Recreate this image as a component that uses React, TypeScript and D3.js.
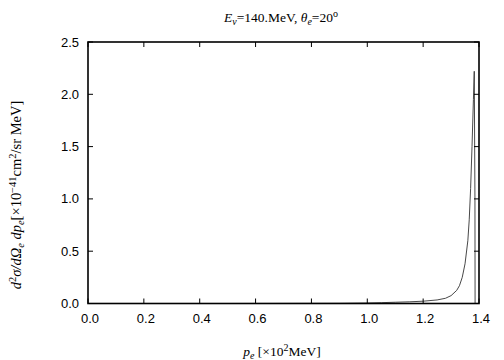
import React from "react";
import * as d3 from "d3";

const pe: number[] = [0.0, 0.5, 0.9, 1.0, 1.05, 1.1, 1.15, 1.2, 1.25, 1.28, 1.3, 1.32, 1.33, 1.34, 1.35, 1.36, 1.365, 1.37, 1.375, 1.38, 1.383, 1.3855, 1.386];
const xs: number[] = [0.0, 0.0, 0.002, 0.005, 0.008, 0.012, 0.016, 0.022, 0.034, 0.05, 0.075, 0.125, 0.17, 0.25, 0.38, 0.6, 0.8, 1.1, 1.5, 1.95, 2.22, 1.0, 0.0];
const xTicks: number[] = [0, 0.2, 0.4, 0.6, 0.8, 1.0, 1.2, 1.4];
const yTicks: number[] = [0, 0.5, 1.0, 1.5, 2.0, 2.5];

const W = 504, H = 360;
const L = 88, R = 479, T = 42, B = 303.5;

export default function App() {
  const x = d3.scaleLinear().domain([0, 1.4]).range([L, R]);
  const y = d3.scaleLinear().domain([0, 2.5]).range([B, T]);
  const line = d3.line<number>().x((_, i) => x(pe[i])).y((d) => y(d));
  const tk = 5;
  const sans = "'Liberation Sans', Arial, sans-serif";
  const serif = "'Liberation Serif', 'Times New Roman', serif";
  return (
    <svg width={W} height={H} style={{ position: "absolute", left: 0, top: 0, background: "#fff" }}>
      <rect x={0} y={0} width={W} height={H} fill="#fff" />
      <path d={line(xs) || ""} fill="none" stroke="#333" strokeWidth={0.9} />
      {xTicks.map((t) => (
        <g key={"x" + t}>
          <line x1={x(t)} x2={x(t)} y1={B} y2={B - tk} stroke="#000" strokeWidth={1} />
          <line x1={x(t)} x2={x(t)} y1={T} y2={T + tk} stroke="#000" strokeWidth={1} />
          <text x={x(t) + 2} y={323} fontFamily={sans} fontSize={13} textAnchor="middle" fill="#000">
            {t.toFixed(1)}
          </text>
        </g>
      ))}
      {yTicks.map((t) => (
        <g key={"y" + t}>
          <line x1={L} x2={L + tk} y1={y(t)} y2={y(t)} stroke="#000" strokeWidth={1} />
          <line x1={R} x2={R - tk} y1={y(t)} y2={y(t)} stroke="#000" strokeWidth={1} />
          <text x={79} y={y(t) + 4.5} fontFamily={sans} fontSize={13} textAnchor="end" fill="#000">
            {t.toFixed(1)}
          </text>
        </g>
      ))}
      <rect x={L} y={T} width={R - L} height={B - T} fill="none" stroke="#000" strokeWidth={1.6} />
      <text x={281} y={22} fontFamily={serif} fontSize={13.5} textAnchor="middle" fill="#000">
        <tspan fontStyle="italic">E</tspan>
        <tspan fontStyle="italic" fontSize={10} dy={3}>ν</tspan>
        <tspan dy={-3}>=140.MeV,  </tspan>
        <tspan fontStyle="italic">θ</tspan>
        <tspan fontStyle="italic" fontSize={10} dy={3}>e</tspan>
        <tspan dy={-3}>=20</tspan>
        <tspan fontSize={10} dy={-5}>o</tspan>
      </text>
      <text x={282} y={356} fontFamily={serif} fontSize={13.5} textAnchor="middle" fill="#000">
        <tspan fontStyle="italic">p</tspan>
        <tspan fontStyle="italic" fontSize={10} dy={3}>e</tspan>
        <tspan dy={-3}> [×10</tspan>
        <tspan fontSize={10} dy={-5}>2</tspan>
        <tspan dy={5}>MeV]</tspan>
      </text>
      <text transform="translate(21,195) rotate(-90)" fontFamily={serif} fontSize={14.5} textAnchor="middle" fill="#000">
        <tspan fontStyle="italic">d</tspan>
        <tspan fontSize={10.5} dy={-5}>2</tspan>
        <tspan fontStyle="italic" dy={5}>σ/d</tspan>
        <tspan fontStyle="italic">Ω</tspan>
        <tspan fontStyle="italic" fontSize={10.5} dy={3}>e</tspan>
        <tspan fontStyle="italic" dy={-3}> dp</tspan>
        <tspan fontStyle="italic" fontSize={10.5} dy={3}>e</tspan>
        <tspan dy={-3}>[×10</tspan>
        <tspan fontSize={10.5} dy={-5}>−41</tspan>
        <tspan dy={5}>cm</tspan>
        <tspan fontSize={10.5} dy={-5}>2</tspan>
        <tspan dy={5}>/sr MeV]</tspan>
      </text>
    </svg>
  );
}
